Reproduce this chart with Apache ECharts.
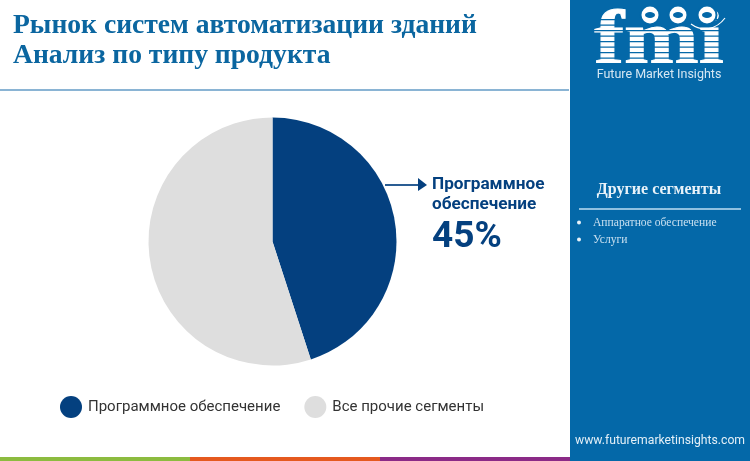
<!DOCTYPE html>
<html><head><meta charset="utf-8">
<style>html,body{margin:0;padding:0;background:#fff}#c{width:750px;height:461px}</style>
<script src="https://cdn.jsdelivr.net/npm/echarts@6/dist/echarts.min.js"></script>
</head><body><div id="c"></div>
<script>
const categories = ['Программное обеспечение', 'Все прочие сегменты'];
const values = [45, 55];
const colors = ['#04407f', '#dedede'];
const titleLines = ['Рынок систем автоматизации зданий', 'Анализ по типу продукта'];
const calloutLines = ['Программное', 'обеспечение'];
const calloutValue = '45%';
const sideTitle = 'Другие сегменты';
const sideItems = ['Аппаратное обеспечение', 'Услуги'];
const brandName = 'Future Market Insights';
const website = 'www.futuremarketinsights.com';

const panel = '#0468a8';
const serif = '"Liberation Serif", serif';
const sans = 'Roboto, sans-serif';
const g = [];
const rect = (x, y, w, h, fill, z) => g.push({type:'rect', shape:{x, y, width:w, height:h}, style:{fill}, z:z||1, silent:true});
const text = (x, y, t, font, fill, extra, el) => g.push(Object.assign({type:'text', x, y, style:Object.assign({text:t, font, fill, textVerticalAlign:'middle'}, extra||{}), z:5, silent:true}, el||{}));

// header
titleLines.forEach((t, i) => text(13, 25.5 + i * 30.5, t, 'bold 27.6px ' + serif, '#0b66a0'));
rect(0, 89, 569, 2, '#8ab4d4');
// bottom strip
rect(0, 457, 190, 4, '#8cbb3f');
rect(190, 457, 190, 4, '#e5591f');
rect(380, 457, 190, 4, '#8b2a87');
// side panel
rect(570, 0, 180, 461, panel);
text(659, 190, sideTitle, 'bold 16px ' + serif, '#e8f2f9', {textAlign:'center'});
rect(579, 208, 162, 2, '#8fc0e0', 3);
sideItems.forEach((t, i) => {
  const y = 222.5 + i * 17;
  g.push({type:'circle', shape:{cx:579, cy:y, r:2}, style:{fill:'#e8f2f9'}, z:5, silent:true});
  text(593, y, t, '11.6px ' + serif, '#c9e0f0');
});
text(660, 441, website, '12.2px ' + sans, '#e3eff7', {textAlign:'center'});
// logo
text(659, 43.5, 'fmi', 'bold 76px ' + serif, '#ffffff', {textAlign:'center', stroke:'#ffffff', lineWidth:1}, {scaleX:1.18, scaleY:1, originX:0, originY:0});
for (let y = 19; y < 66; y += 5.5) rect(590, y, 140, 1.2, panel, 6);
[[650, 15], [678, 15], [707, 15]].forEach(p => {
  g.push({type:'circle', shape:{cx:p[0], cy:p[1], r:10.5}, style:{fill:panel}, z:7, silent:true});
  g.push({type:'circle', shape:{cx:p[0], cy:p[1], r:8.5}, style:{fill:'#ffffff'}, z:7, silent:true});
  g.push({type:'ellipse', shape:{cx:p[0], cy:p[1], rx:5, ry:3}, style:{fill:panel}, z:8, silent:true});
});
g.push({type:'bezierCurve', shape:{x1:691, y1:24, cpx1:702, cpy1:32, cpx2:716, cpy2:30, x2:725, y2:18}, style:{stroke:'#ffffff', lineWidth:1.2, fill:null}, z:8, silent:true});
text(659, 75, brandName, '12.5px ' + sans, '#d5e7f3', {textAlign:'center'});
// callout arrow
g.push({type:'line', shape:{x1:385, y1:185, x2:418, y2:185}, style:{stroke:'#2a5d93', lineWidth:2}, z:5, silent:true});
g.push({type:'polygon', shape:{points:[[418,178],[427,185],[418,191]]}, style:{fill:'#04407f'}, z:5, silent:true});
calloutLines.forEach((t, i) => text(432, 185 + i * 20, t, 'bold 17.2px ' + sans, '#04407f'));
text(432, 238, calloutValue, 'bold 37px ' + sans, '#04407f');

const chart = echarts.init(document.getElementById('c'), null, {renderer:'canvas'});
chart.setOption({
  animation: false,
  backgroundColor: '#ffffff',
  color: colors,
  legend: {
    left: 55, top: 391, itemWidth: 22, itemHeight: 22, itemGap: 24, icon: 'circle',
    data: categories,
    textStyle: {fontFamily: 'Roboto, sans-serif', fontSize: 15, color: '#333333', padding: [0, 0, 0, 1]}
  },
  series: [{
    type: 'pie', center: [272.5, 241.5], radius: [0, 124], startAngle: 90, clockwise: true,
    label: {show: false}, labelLine: {show: false}, silent: true,
    data: categories.map((name, i) => ({name, value: values[i]}))
  }],
  graphic: {elements: g}
});
</script></body></html>
